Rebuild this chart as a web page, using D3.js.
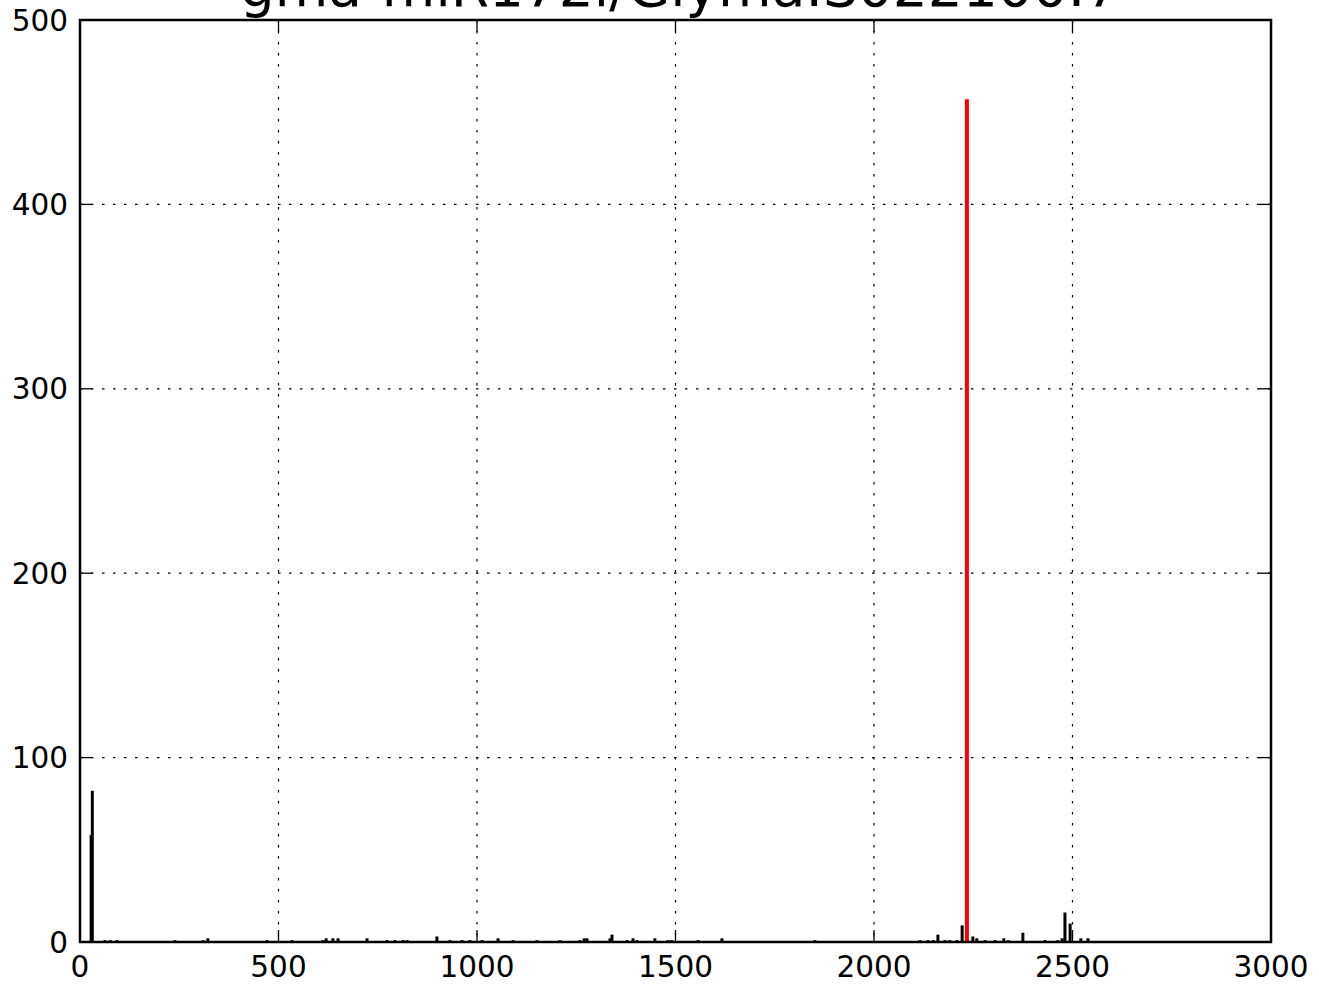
<!DOCTYPE html>
<html>
<head>
<meta charset="utf-8">
<script src="https://cdn.jsdelivr.net/npm/d3@7.9.0/dist/d3.min.js"></script>
<style>
  body { margin: 0; background: #fff; }
  svg { display: block; font-family: "DejaVu Sans", sans-serif; }
</style>
</head>
<body>
<svg id="chart" width="1319" height="985"></svg>
<script>
const title = "gma-miR172i/Glyma.S022100.7";

// read counts along the transcript (position, count)
const positions = [28, 31, 63, 76, 93, 239, 310, 322, 471, 534, 612, 620, 637, 650, 723, 773, 793, 814, 824,
  899, 932, 962, 982, 1013, 1053, 1091, 1151, 1209, 1259, 1270, 1277, 1335, 1340, 1378, 1393, 1403,
  1448, 1481, 1491, 1557, 1617, 1851, 2116, 2136, 2149, 2161, 2179, 2191, 2209, 2222, 2249, 2259,
  2280, 2305, 2327, 2338, 2375, 2431, 2463, 2474, 2481, 2494, 2521, 2539];
const counts = [58, 82, 1, 1, 1, 1, 1, 2, 1, 1, 1, 2, 2, 2, 2, 1, 1, 1, 1,
  3, 1, 1, 1, 1, 2, 1, 1, 1, 1, 2, 2, 2, 4, 1, 2, 1,
  2, 1, 1, 1, 2, 1, 1, 1, 1, 4, 1, 1, 1, 9, 3, 2,
  1, 1, 2, 1, 5, 1, 1, 2, 16, 10, 2, 2];

// cleavage site
const sitePos = [2234];
const siteCount = [457];

const xTicks = [0, 500, 1000, 1500, 2000, 2500, 3000];
const yTicks = [0, 100, 200, 300, 400, 500];

const svg = d3.select("#chart");
const mLeft = 80, mRight = 1271, mTop = 20, mBottom = 942;

const x = d3.scaleLinear().domain([0, 3000]).range([mLeft, mRight]);
const y = d3.scaleLinear().domain([0, 500]).range([mBottom, mTop]);

// grid
const grid = svg.append("g").attr("stroke", "#000").attr("stroke-width", 1.2)
  .attr("stroke-dasharray", "2.5,8.5");
xTicks.slice(1, -1).forEach(t => {
  grid.append("line").attr("x1", x(t)).attr("x2", x(t)).attr("y1", mTop).attr("y2", mBottom);
});
yTicks.slice(1, -1).forEach(t => {
  grid.append("line").attr("x1", mLeft).attr("x2", mRight).attr("y1", y(t)).attr("y2", y(t));
});

// read bars
positions.forEach((p, i) => {
  svg.append("line")
    .attr("x1", x(p)).attr("x2", x(p))
    .attr("y1", y(0)).attr("y2", y(counts[i]))
    .attr("stroke", "#000").attr("stroke-width", 3);
});

sitePos.forEach((p, i) => {
  svg.append("line")
    .attr("x1", x(p)).attr("x2", x(p))
    .attr("y1", y(0)).attr("y2", y(siteCount[i]))
    .attr("stroke", "#ff0000").attr("stroke-width", 4);
});

// ticks inside, all four sides
const tickLen = 12;
const tk = svg.append("g").attr("stroke", "#000").attr("stroke-width", 1.3);
xTicks.forEach(t => {
  tk.append("line").attr("x1", x(t)).attr("x2", x(t)).attr("y1", mBottom).attr("y2", mBottom - tickLen);
  tk.append("line").attr("x1", x(t)).attr("x2", x(t)).attr("y1", mTop).attr("y2", mTop + tickLen);
});
yTicks.forEach(t => {
  tk.append("line").attr("x1", mLeft).attr("x2", mLeft + tickLen).attr("y1", y(t)).attr("y2", y(t));
  tk.append("line").attr("x1", mRight).attr("x2", mRight - tickLen).attr("y1", y(t)).attr("y2", y(t));
});

// frame
svg.append("rect")
  .attr("x", mLeft).attr("y", mTop)
  .attr("width", mRight - mLeft).attr("height", mBottom - mTop)
  .attr("fill", "none").attr("stroke", "#000").attr("stroke-width", 2.5);

// tick labels
svg.append("g").selectAll("text").data(xTicks).join("text")
  .attr("x", d => x(d)).attr("y", 977)
  .attr("text-anchor", "middle").attr("font-size", 29.5)
  .text(d => d);

svg.append("g").selectAll("text").data(yTicks).join("text")
  .attr("x", 68).attr("y", d => y(d))
  .attr("dy", "0.36em")
  .attr("text-anchor", "end").attr("font-size", 29.5)
  .text(d => d);

// title (clipped by the top edge in the original)
svg.append("text")
  .attr("x", 680).attr("y", 6)
  .attr("text-anchor", "middle").attr("font-size", 55)
  .text(title);
</script>
</body>
</html>
